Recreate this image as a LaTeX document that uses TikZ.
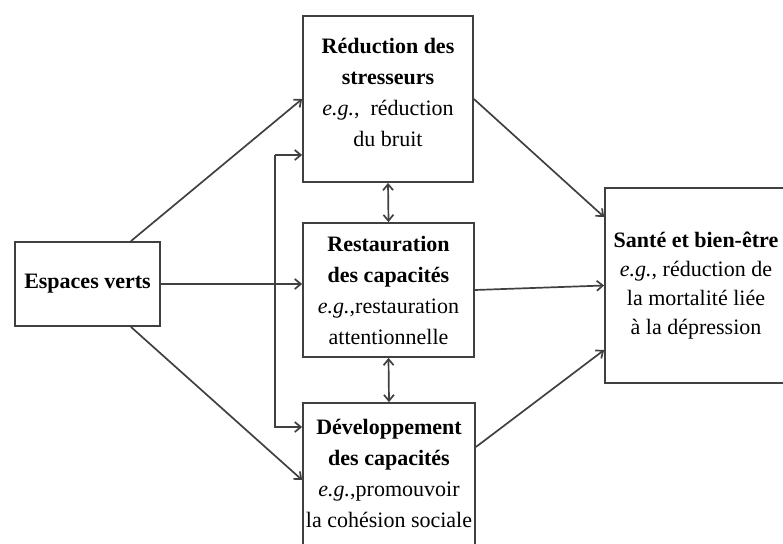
\documentclass[tikz,border=0pt]{standalone}
\usepackage{fontspec}
\setmainfont{Liberation Serif}
\usetikzlibrary{arrows.meta}

\colorlet{edge}{black!75}
\tikzset{
  box/.style={draw=edge, line width=1.8pt, fill=white, align=center,
    inner sep=0pt, font=\fontsize{22}{31}\selectfont},
  arr/.style={-{Straight Barb[length=6pt,width=10pt]}, line width=1.7pt, draw=edge},
  arrboth/.style={{Straight Barb[length=6pt,width=10pt]}-{Straight Barb[length=6pt,width=10pt]},
    line width=1.7pt, draw=edge}
}

\begin{document}
\begin{tikzpicture}[x=1pt,y=-1pt]
      \clip (0,0) rectangle (783,543);

      % Boxes
      \node[box, minimum width=145, minimum height=84] (esp) at (87.5,284)
      {\textbf{Espaces verts}};

      \node[box, minimum width=170, minimum height=166] (red) at (388,99)
      {\textbf{Réduction des}\\\textbf{stresseurs}\\\textit{e.g.},\ \ réduction\\du bruit\\[-17pt]};

      \node[box, minimum width=171, minimum height=134] (res) at (388.5,290)
      {\textbf{Restauration}\\\textbf{des capacités}\\\textit{e.g.},restauration\\attentionnelle};

      \node[box, minimum width=172, minimum height=154] (dev) at (389,480)
      {\textbf{Développement}\\\textbf{des capacités}\\\textit{e.g.},promouvoir\\la cohésion sociale\\[-17pt]};

      \node[box, minimum width=182, minimum height=195, font=\fontsize{22}{29}\selectfont]
      (sante) at (696,285.5)
      {\textbf{Santé et bien-être}\\\textit{e.g.}, réduction de\\la mortalité liée\\à la dépression};

      % Arcs (from Espaces verts)
      \draw[arr] ([xshift=-30pt]esp.north east) -- (red.west);
      \draw[arr] (esp.east) -- (esp.east -| res.west);
      \draw[arr] ([xshift=-30pt]esp.south east) -- (dev.west);

      % Arcs (side line)
      \coordinate (fbt) at (275,155);
      \coordinate (fbb) at (275,427);
      \draw[arr] (fbt) -- (fbt -| red.west);
      \draw[arr] (fbt) |- (dev.west |- fbb);

      % Arcs (between boxes)
      \draw[arrboth] (red.south) -- (res.north);
      \draw[arrboth] (res.south) -- (dev.north);

      % Arcs (to Santé)
      \draw[arr] (red.east) -- ([yshift=68.5pt]sante.west);
      \draw[arr] (res.east) -- (sante.west);
      \draw[arr] ([yshift=33pt]dev.east) -- ([yshift=-64.5pt]sante.west);
\end{tikzpicture}
\end{document}
